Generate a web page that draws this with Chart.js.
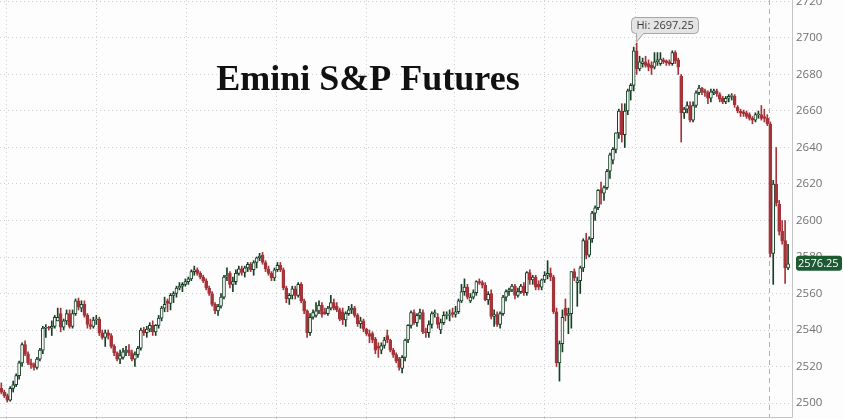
<!DOCTYPE html>
<html>
<head>
<meta charset="utf-8">
<script src="https://cdn.jsdelivr.net/npm/chart.js@4.4.1/dist/chart.umd.min.js"></script>
<style>
  html, body { margin: 0; padding: 0; background: #fdfdfd; }
  #wrap { width: 844px; height: 419px; }
</style>
</head>
<body>
<div id="wrap"><canvas id="futuresChart"></canvas></div>
<script>
// Emini S&P futures candles (one entry per bar)
const opens = [
  2508,2506,2504,2501.5,2508,2510,2515,2522,2532,2527,
  2522,2521,2519.5,2524,2529,2541,2541.5,2541,2542,2545,
  2549,2541.5,2545,2549,2542,2549,2556,2552,2554,2548,
  2543,2542,2545.5,2546,2538.5,2536,2538.5,2537,2531,2527.5,
  2524,2525,2528,2529,2527.5,2524,2526.5,2530,2540,2538.5,
  2540.5,2542.5,2539,2542.5,2546.5,2552,2556,2554.5,2559,2560,
  2563,2564,2565,2566.5,2568,2572,2573,2571,2569,2567,
  2563,2560,2554,2550.5,2553,2558,2569,2571,2565,2566.5,
  2571,2573.5,2571.5,2574,2576,2573,2577,2579.5,2581,2577,
  2573.5,2571,2568.5,2573,2575.5,2573,2563,2557,2559,2562.5,
  2559,2565,2556,2550.5,2538.5,2547,2548,2550.5,2553.5,2550,
  2549,2552,2555,2553,2551,2550,2545.5,2549,2551,2552,
  2548,2543.5,2545,2540.5,2538,2538,2535,2531,2529,2531.5,
  2537,2534.5,2529,2526.5,2524,2519,2525,2534.5,2542.5,2549.5,
  2544,2548,2549.5,2539,2538.5,2543,2549,2547,2540,2544,
  2548,2548,2549.5,2548.5,2550,2556,2561,2563.5,2556,2558,
  2560.5,2566.5,2566,2564.5,2556.5,2560,2547.5,2548.5,2543,2549,
  2558,2561,2562,2564,2559,2561,2564,2560.5,2571.5,2567.5,
  2569,2565,2563.5,2567.5,2570,2571,2569,2550,2522,2532.5,
  2552,2548,2549,2572,2566,2567,2574,2589,2581,2590,
  2604,2607,2617,2615,2618,2627,2633,2639,2648,2660,
  2647,2660,2671,2674,2693,2683,2686,2687,2686,2685,
  2684,2687,2686,2688,2687.5,2687,2686,2692,2688,2679,
  2659,2661,2663,2655,2663,2670,2672.5,2671,2670,2667,
  2670,2671,2669,2667,2665,2667,2668,2668,2662,2660,
  2659.5,2659,2658,2656,2655,2658,2658,2657,2656,2653,
  2582,2620,2609,2594,2589,2574
];
const highs = [
  2511,2507,2505,2509,2512,2516,2523,2533,2534,2528,
  2524,2522,2525,2530,2542,2543,2542,2545,2548,2552,
  2552,2546,2551,2551,2551,2557,2557.5,2556,2556,2549,
  2546,2547,2548,2547,2540,2540,2540,2538,2532,2528,
  2529,2530,2531,2532,2529,2528,2531,2541,2541.5,2542,
  2544,2545,2543,2548,2553,2558,2557,2560,2561,2564,
  2566,2566,2568,2569,2573,2575,2574,2572,2570,2568,
  2564,2561,2555,2554,2560,2570,2574,2572,2569,2573,
  2575,2575,2575,2577,2577,2578,2580,2582,2582.5,2578,
  2575,2572,2574,2577,2577,2574,2564,2560,2564,2564,
  2566,2566,2557,2551,2549,2551,2555,2556,2555,2552,
  2553,2559,2557,2555,2552,2552,2550,2553,2554,2553,
  2549,2547,2546,2541,2540,2539,2536,2533,2533,2536,
  2540,2535,2530,2527.5,2525,2526,2535,2543,2550.5,2551,
  2549,2551.5,2551,2541,2545,2550,2551,2549,2546,2550,
  2550,2551,2552,2553,2557,2565,2568,2565,2560,2562,
  2567,2568,2567,2566,2561,2562,2551,2550,2550,2559,
  2562,2563,2565,2565,2563,2565,2566,2572,2573,2570,
  2570,2567,2568,2572,2578,2574,2570,2552,2534,2551,
  2557,2552,2572,2573.5,2569,2575,2590,2593,2591,2605,
  2608,2617,2621,2619,2628,2637,2640,2648,2661,2664,
  2664,2672,2675,2695,2697.25,2690,2689,2690,2688,2687,
  2692,2692,2692,2689,2688,2688,2693,2693,2689,2680,
  2662,2665,2665,2665,2671,2674,2673,2672,2671,2672,
  2672,2672,2670,2668,2668,2669,2669.5,2669,2663,2661,
  2660.5,2660,2659,2657,2659,2660,2663,2661,2658,2654,
  2622,2640,2611,2600,2600,2587
];
const lows = [
  2505,2503,2500.5,2501,2506,2509,2513,2520,2526,2521,
  2519,2518,2518.5,2523,2527,2536,2540,2537,2541,2545,
  2539,2540,2543,2541,2541,2548,2551,2550,2547,2541,
  2540.5,2541,2543,2537,2535,2531,2535,2530,2526,2523,
  2521.5,2524,2526,2526,2523,2520,2525,2529,2537,2536,
  2539,2537,2537,2541,2545,2550,2550,2551,2555,2558,
  2562,2561,2564,2565,2567,2570,2570,2568,2566,2562,
  2559,2553,2549,2548,2552,2557,2567,2563,2561,2565,
  2570,2570,2569,2572,2572,2570,2574,2578,2576,2572,
  2570,2567,2567,2572,2572,2562,2555,2554,2557,2557,
  2558,2555,2549,2536,2537,2546,2547,2549,2547,2548.5,
  2548,2551,2551,2550,2545,2543,2542,2548,2549,2547,
  2542,2541,2539,2537,2533,2533,2527,2525,2527,2530,
  2533,2528,2525,2522,2518,2516.5,2523,2533,2541,2543,
  2542,2546,2538,2536,2536,2541,2547,2541,2538,2543,
  2546,2545,2547,2547,2549,2555,2559,2557,2555,2557,
  2559,2565,2563,2556,2554,2546,2542,2542,2541,2548,
  2556,2559,2561,2557,2558,2560,2559,2559,2565,2565,
  2562,2562,2562,2566,2568,2567,2549,2520,2512,2528,
  2545,2538,2541,2567,2553,2560,2572,2579,2580,2588,
  2600,2606,2609,2611,2617,2623,2631,2637,2645,2643,
  2640,2658,2666,2671,2680,2682,2684,2684,2682,2680,
  2683,2685,2685,2686,2685,2685,2685,2686,2680,2643,
  2656,2659,2654,2654,2662,2669,2669,2668,2664,2665,
  2669,2668,2665,2664,2664,2665,2666,2662,2659,2657,
  2657,2656,2655,2653,2654,2656,2655,2654,2652,2580,
  2565,2608,2592,2587,2565.5,2573
];
const closes = [
  2506,2504,2501.5,2508,2510,2515,2522,2532,2527,2522,
  2521,2519.5,2524,2529,2541,2541.5,2541,2542,2547,2547,
  2541.5,2545,2549,2542,2549,2556,2552.5,2554,2548,2543,
  2542,2545.5,2546,2538.5,2536,2538.5,2537,2531,2527.5,2524,
  2526,2528,2529,2527.5,2524,2526.5,2530,2540,2538.5,2540.5,
  2542.5,2539,2542.5,2546.5,2552,2554,2554.5,2559,2560,2563,
  2564,2565,2566.5,2568,2572,2573,2571,2569,2567,2563,
  2560,2554,2550.5,2553,2558,2569,2570,2565,2566.5,2571,
  2573.5,2571.5,2574,2576,2573,2577,2579.5,2580.5,2577,2573.5,
  2571,2568.5,2573,2575.5,2573,2563,2557,2559,2562.5,2559,
  2565,2556,2550.5,2538.5,2547,2549.5,2550.5,2553.5,2548.5,2549,
  2552,2555,2552,2551,2546,2545.5,2549,2551,2552,2548,
  2543.5,2545,2540.5,2538,2536.5,2534.5,2529,2530,2531.5,2534.5,
  2534.5,2529,2526.5,2523,2519.5,2525,2534.5,2542.5,2549.5,2544,
  2548,2549.5,2539,2538.5,2543,2549,2549.5,2543,2544,2548,
  2548.5,2548.5,2548.5,2550,2556,2561,2563.5,2558,2558,2560.5,
  2566.5,2566,2564.5,2556.5,2559.5,2547.5,2548.5,2543,2549,2558,
  2561,2562,2564,2559,2561,2564,2560.5,2571.5,2567.5,2569,
  2563.5,2563.5,2567.5,2570,2571,2569,2550,2522,2532.5,2547,
  2548,2549,2572,2568.5,2567,2574,2589,2581,2590,2604,
  2607,2616.5,2615,2618,2627,2636,2639,2648,2660,2647,
  2660,2671,2674,2693,2683,2687,2687,2685,2684,2683.5,
  2687,2688,2688.5,2687,2686.5,2686,2692,2687.5,2684,2659,
  2661,2663,2655,2663,2670,2672.5,2670.5,2670,2667,2670.5,
  2671,2669.5,2666.5,2665,2667,2668,2668.5,2663.5,2660,2659,
  2658.5,2657,2656,2655,2658,2658.5,2656,2656,2653,2582,
  2620,2609.5,2594,2589,2574,2576.25
];

// vertical grid lines (bar numbers) and the new-session marker
const gridBars = [1.7, 32, 62.3, 92.6, 122.9, 152.5, 182.8, 213.5];
const sessionBreak = 258.6;
const priceTicks = [2500, 2520, 2540, 2560, 2580, 2600, 2620, 2640, 2660, 2680, 2700, 2720];
const titleText = 'Emini S&P Futures';

const upColor = '#163f24';
const downColor = '#a5343a';
const smallFont = '"Open Sans", sans-serif';

const isUp = closes.map((c, i) => c >= opens[i]);
const bodies = closes.map((c, i) => ({ x: i, y: [opens[i], c] }));
const wicks = highs.map((h, i) => ({ x: i, y: [lows[i], h] }));

// title, session line, axis lines, high callout and last price tag
const decorations = {
    id: 'decorations',
    beforeDraw(chart) {
        const ctx = chart.ctx;
        ctx.save();
        ctx.fillStyle = '#fdfdfd';
        ctx.fillRect(0, 0, chart.width, chart.height);
        ctx.restore();
    },
    beforeDatasetsDraw(chart) {
        const { ctx, chartArea, scales } = chart;
        ctx.save();
        ctx.font = 'bold 36px "Liberation Serif", serif';
        ctx.fillStyle = '#111111';
        ctx.textAlign = 'center';
        ctx.fillText(titleText, 368, 90);

        const sx = Math.round(scales.x.getPixelForValue(sessionBreak)) + 0.5;
        ctx.strokeStyle = '#b0b0b0';
        ctx.lineWidth = 1;
        ctx.setLineDash([5, 4]);
        ctx.beginPath();
        ctx.moveTo(sx, chartArea.top);
        ctx.lineTo(sx, chartArea.bottom);
        ctx.stroke();
        ctx.restore();
    },
    afterDraw(chart) {
        const { ctx, chartArea, scales } = chart;
        ctx.save();

        // axis lines
        ctx.strokeStyle = '#c4c4c4';
        ctx.lineWidth = 1;
        ctx.beginPath();
        ctx.moveTo(chartArea.right + 0.5, 0);
        ctx.lineTo(chartArea.right + 0.5, chartArea.bottom + 0.5);
        ctx.moveTo(0, chartArea.bottom + 0.5);
        ctx.lineTo(chartArea.right + 0.5, chartArea.bottom + 0.5);
        ctx.stroke();

        // high callout
        const hiValue = Math.max(...highs);
        const hiIdx = highs.indexOf(hiValue);
        const hx = scales.x.getPixelForValue(hiIdx);
        const hy = scales.y.getPixelForValue(hiValue);
        const bx = Math.round(hx) - 5.5, by = Math.round(hy) - 25.5, bw = 67, bh = 16;
        ctx.fillStyle = '#e4e4e4';
        ctx.strokeStyle = '#a6a6a6';
        ctx.beginPath();
        ctx.roundRect(bx, by, bw, bh, 4);
        ctx.fill();
        ctx.stroke();
        ctx.beginPath();
        ctx.moveTo(bx + 5, by + bh);
        ctx.lineTo(hx, hy - 1);
        ctx.lineTo(bx + 12, by + bh);
        ctx.fill();
        ctx.stroke();
        ctx.fillRect(bx + 5.5, by + bh - 1.5, 6, 2);
        ctx.fillStyle = '#3a3a3a';
        ctx.font = '11px ' + smallFont;
        ctx.textAlign = 'left';
        ctx.textBaseline = 'middle';
        ctx.fillText('Hi: ' + hiValue.toFixed(2), bx + 5, by + bh / 2 + 0.5);

        // last price tag on the axis
        const last = closes[closes.length - 1];
        const py = scales.y.getPixelForValue(last);
        ctx.fillStyle = '#1c5a32';
        ctx.beginPath();
        ctx.roundRect(chartArea.right + 4, py - 8, 46, 15, 3);
        ctx.fill();
        ctx.fillStyle = '#ffffff';
        ctx.font = '11px ' + smallFont;
        ctx.fillText(last.toFixed(2), chartArea.right + 6, py);
        ctx.restore();
    }
};

new Chart(document.getElementById('futuresChart'), {
    type: 'bar',
    data: {
        datasets: [
            {
                label: 'body',
                data: bodies,
                backgroundColor: isUp.map(u => u ? '#ffffff' : downColor),
                borderColor: isUp.map(u => u ? upColor : downColor),
                borderWidth: 1,
                borderSkipped: false,
                barThickness: 3,
                grouped: false,
                order: 0
            },
            {
                label: 'wick',
                data: wicks,
                backgroundColor: isUp.map(u => u ? upColor : downColor),
                borderWidth: 0,
                barThickness: 1,
                grouped: false,
                order: 1
            }
        ]
    },
    options: {
        responsive: true,
        maintainAspectRatio: false,
        animation: false,
        events: [],
        layout: { padding: 0, autoPadding: false },
        plugins: {
            legend: { display: false },
            tooltip: { enabled: false },
            title: { display: false }
        },
        scales: {
            x: {
                type: 'linear',
                min: -0.44,
                max: 266.32,
                offset: false,
                ticks: { display: false },
                grid: { color: '#d0d0d0', offset: false, drawTicks: true, tickLength: 2 },
                border: { display: false, dash: [1, 3] },
                afterBuildTicks(scale) {
                    scale.ticks = gridBars.map(v => ({ value: v }));
                },
                afterFit(scale) {
                    scale.height = 2;
                    scale.paddingLeft = 0;
                    scale.paddingRight = 0;
                }
            },
            y: {
                position: 'right',
                min: 2492.33,
                max: 2720.82,
                ticks: {
                    includeBounds: false,
                    color: '#707070',
                    font: { family: smallFont, size: 11.5 },
                    padding: 4,
                    callback: v => String(v)
                },
                grid: { color: '#d0d0d0', drawTicks: false },
                border: { display: false, dash: [1, 3] },
                afterBuildTicks(scale) {
                    scale.ticks = priceTicks.map(v => ({ value: v }));
                },
                afterFit(scale) {
                    scale.width = 52;
                    scale.paddingTop = 0;
                    scale.paddingBottom = 0;
                }
            }
        }
    },
    plugins: [decorations]
});
</script>
</body>
</html>
